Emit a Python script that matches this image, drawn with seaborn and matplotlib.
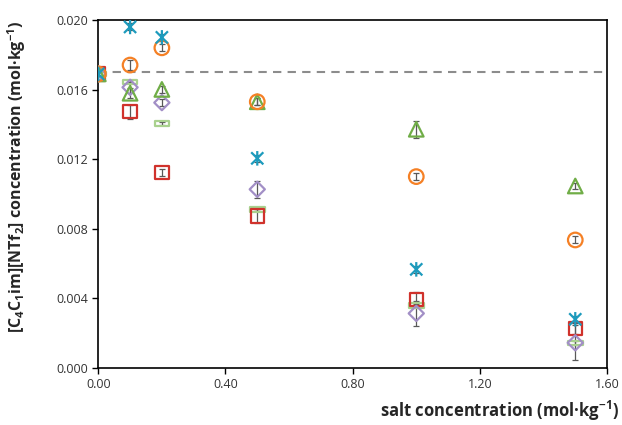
import numpy as np
import pandas as pd
import matplotlib
matplotlib.use("Agg")
import matplotlib.pyplot as plt
from matplotlib.path import Path
import seaborn as sns

sns.set_theme(style="white")
plt.rcParams['font.family'] = ['Open Sans', 'DejaVu Sans']
plt.rcParams['mathtext.fontset'] = 'custom'
plt.rcParams['mathtext.rm'] = 'Open Sans:bold'
plt.rcParams['mathtext.bf'] = 'Open Sans:bold'
plt.rcParams['mathtext.default'] = 'bf'

# salt concentration (mol/kg)
salt = [0.0, 0.1, 0.2, 0.5, 1.0, 1.5]

# [C4C1im][NTf2] concentration per salt (mol/kg)
lime_y   = [0.0169, 0.01645, 0.01406, 0.0091, 0.0036, 0.00144]
lime_err = [0.0001, 0.0001, 0.0001, 0.0001, 0.0001, 0.0001]
red_y    = [0.0169, 0.01473, 0.01124, 0.00874, 0.00395, 0.00228]
red_err  = [0.0001, 0.0004, 0.0002, 0.0004, 0.0004, 0.0003]
purp_y   = [0.0169, 0.01613, 0.01525, 0.01027, 0.00314, 0.00145]
purp_err = [0.0001, 0.0003, 0.0002, 0.0005, 0.0007, 0.0010]
green_y  = [0.0169, 0.01579, 0.01601, 0.0153, 0.01372, 0.01046]
green_err = [0.0001, 0.0003, 0.0002, 0.0002, 0.0005, 0.0002]
orange_y = [0.0169, 0.01741, 0.0184, 0.0153, 0.011, 0.00736]
orange_err = [0.0001, 0.0003, 0.0002, 0.0002, 0.0002, 0.0002]
cyan_y   = [0.0169, 0.0196, 0.0190, 0.01205, 0.00567, 0.0028]
cyan_err = [0.0001, 0.0002, 0.0002, 0.0002, 0.0002, 0.0002]

pure_level = 0.017

yticks = [0.000, 0.004, 0.008, 0.012, 0.016, 0.020]
xticks = [0.00, 0.40, 0.80, 1.20, 1.60]

# custom markers
star = Path([(-1, -1), (1, 1), (-1, 1), (1, -1), (0, -1.2), (0, 1.2)],
            [Path.MOVETO, Path.LINETO, Path.MOVETO, Path.LINETO, Path.MOVETO, Path.LINETO])
flat = Path([(-1, -0.3), (1, -0.3), (1, 0.3), (-1, 0.3), (-1, -0.3)],
            [Path.MOVETO, Path.LINETO, Path.LINETO, Path.LINETO, Path.CLOSEPOLY])

series = [
    (lime_y, lime_err, flat, "#a9d18e", 110),
    (red_y, red_err, "s", "#d0322c", 95),
    (purp_y, purp_err, "D", "#a28fc6", 60),
    (green_y, green_err, "^", "#70ad47", 110),
    (orange_y, orange_err, "o", "#f58025", 110),
    (cyan_y, cyan_err, star, "#1d9bbd", 110),
]

fig, ax = plt.subplots(figsize=(6.22, 4.25), dpi=100)
fig.subplots_adjust(left=0.158, right=0.976, top=0.953, bottom=0.134)

ax.axhline(pure_level, color="#8c8c8c", linestyle=(0, (4, 3)), linewidth=1.5, zorder=1)

for ys, errs, mk, col, size in series:
    df = pd.DataFrame({"salt": salt, "conc": ys})
    ax.errorbar(salt, ys, yerr=errs, fmt="none", ecolor="#595959",
                elinewidth=0.9, capsize=2.5, capthick=0.9, zorder=2)
    sns.scatterplot(data=df, x="salt", y="conc", marker=mk, s=size,
                    facecolors="none", edgecolor=col, linewidth=1.6,
                    ax=ax, zorder=3, legend=False)

ax.set_xlim(0, 1.6)
ax.set_ylim(0, 0.020)
ax.set_xticks(xticks)
ax.set_yticks(yticks)
ax.set_xticklabels([f"{v:.2f}" for v in xticks], fontsize=9, color="#333333")
ax.set_yticklabels([f"{v:.3f}" for v in yticks], fontsize=9, color="#333333")
ax.tick_params(axis="both", direction="out", length=4, width=1, color="black",
               bottom=True, left=True, top=False, right=False, pad=3)
for sp in ax.spines.values():
    sp.set_color("black")
    sp.set_linewidth(1.2)

ax.set_xlabel("salt concentration (mol·kg$^{-1}$)", fontsize=12,
              fontweight="bold", loc="right")
ax.xaxis.set_label_coords(1.0236, -0.088)
ax.set_ylabel("[C$_4$C$_1$im][NTf$_2$] concentration (mol·kg$^{-1}$)",
              fontsize=11.5, fontweight="bold")
ax.yaxis.set_label_coords(-0.139, 0.55)

plt.savefig("out.png", dpi=100)
